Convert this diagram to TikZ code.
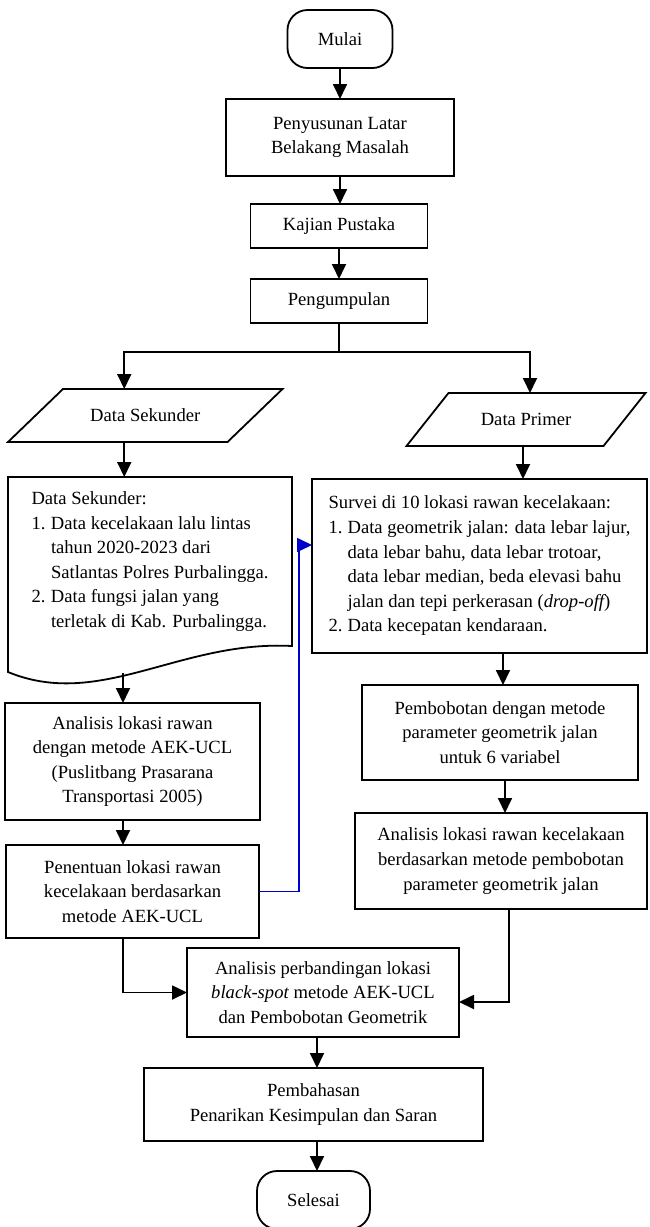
\documentclass[tikz,border=0pt]{standalone}
\usepackage{fontspec}
\setmainfont{Liberation Serif}
\usetikzlibrary{arrows.meta}
\definecolor{linkblue}{RGB}{0,0,205}
\begin{document}
\begin{tikzpicture}[x=1pt,y=-1pt,
  every node/.style={font=\fontsize{18.6}{24.6}\selectfont, inner sep=0pt, outer sep=0pt},
  box/.style={draw, line width=1.8pt, align=center},
  term/.style={draw, line width=1.8pt, rounded corners=20pt, minimum width=105pt, minimum height=58pt},
  io/.style={minimum height=53pt},
  outline/.style={line width=1.8pt, line join=miter},
  arr/.style={line width=1.8pt, -{Triangle[length=15pt,width=14pt]}},
  bluearr/.style={line width=1.6pt, draw=linkblue, -{Triangle[length=15pt,width=14pt]}}
]
\useasboundingbox (0,0) rectangle (649,1227);

% nodes
\node[term] (mulai) at (340,39) {Mulai};
\node[box, minimum width=228pt, minimum height=77pt] (latar) at (340,137.5) {Penyusunan Latar\\Belakang Masalah};
\node[box, minimum width=177pt, minimum height=44pt] (kajian) at (339,226) {Kajian Pustaka};
\node[box, minimum width=177pt, minimum height=44pt] (kumpul) at (339,301) {Pengumpulan};

\node[io, minimum width=219.5pt] (sek) at (145.25,415.5) {Data Sekunder};
\draw[outline] ([xshift=27.5pt]sek.north west) -- ([xshift=27.5pt]sek.north east)
  -- ([xshift=-27.5pt]sek.south east) -- ([xshift=-27.5pt]sek.south west) -- cycle;

\node[io, minimum width=197pt] (pri) at (526,419.5) {Data Primer};
\draw[outline] ([xshift=21pt]pri.north west) -- ([xshift=21pt]pri.north east)
  -- ([xshift=-21pt]pri.south east) -- ([xshift=-21pt]pri.south west) -- cycle;

\node[align=left, minimum width=284pt, minimum height=169pt] (doc) at (150,561.5)
  {Data Sekunder:\\
   \makebox[19.5pt][l]{1.}Data kecelakaan lalu lintas\\
   \hspace*{19.5pt}tahun 2020-2023 dari\\
   \hspace*{19.5pt}Satlantas Polres Purbalingga.\\
   \makebox[19.5pt][l]{2.}Data fungsi jalan yang\\
   \hspace*{19.5pt}terletak di Kab. Purbalingga.};
\draw[outline] (doc.south east)
  .. controls ([xshift=-112pt,yshift=6pt]doc.south east) and ([xshift=92pt,yshift=-64pt]doc.south west)
  .. ([yshift=-26pt]doc.south west) -- (doc.north west) -- (doc.north east) -- cycle;

\node[box, align=left, minimum width=335pt, minimum height=174pt] (surv) at (479.5,566)
  {Survei di 10 lokasi rawan kecelakaan:\\
   \makebox[19pt][l]{1.}Data geometrik jalan: data lebar lajur,\\
   \hspace*{19pt}data lebar bahu, data lebar trotoar,\\
   \hspace*{19pt}data lebar median, beda elevasi bahu\\
   \hspace*{19pt}jalan dan tepi perkerasan ({\itshape drop-off})\\
   \makebox[19pt][l]{2.}Data kecepatan kendaraan.};

\node[box, minimum width=255pt, minimum height=117pt] (ana1) at (132.5,761.5)
  {Analisis lokasi rawan\\dengan metode AEK-UCL\\(Puslitbang Prasarana\\Transportasi 2005)};
\node[box, minimum width=253pt, minimum height=93pt] (pen) at (132.5,891.5)
  {Penentuan lokasi rawan\\kecelakaan berdasarkan\\metode AEK-UCL};
\node[box, minimum width=276pt, minimum height=95pt] (bobot) at (500,732.5)
  {Pembobotan dengan metode\\parameter geometrik jalan\\untuk 6 variabel};
\node[box, minimum width=292pt, minimum height=96pt] (ana2) at (501,861)
  {Analisis lokasi rawan kecelakaan\\berdasarkan metode pembobotan\\parameter geometrik jalan};
\node[box, minimum width=272pt, minimum height=89pt] (banding) at (323,992.5)
  {Analisis perbandingan lokasi\\\textit{black-spot} metode AEK-UCL\\dan Pembobotan Geometrik};
\node[box, minimum width=339pt, minimum height=73pt] (bahas) at (313.5,1104.5)
  {Pembahasan\\Penarikan Kesimpulan dan Saran};
\node[term, minimum width=113pt] (selesai) at (313.5,1200) {Selesai};

% connectors
\draw[arr] (mulai.south) -- (mulai.south |- latar.north);
\draw[arr] (latar.south) -- (latar.south |- kajian.north);
\draw[arr] (kajian.south) -- (kajian.south |- kumpul.north);
\draw[line width=1.8pt] (kumpul.south) -- ++(0,29) coordinate (split);
\draw[arr] (split) -| ([xshift=-21pt]sek.north);
\draw[arr] (split) -| ([xshift=4pt]pri.north);
\draw[arr] ([xshift=-21pt]sek.south) -- ([xshift=-21pt]sek.south |- doc.north);
\draw[arr] ([xshift=-3pt]pri.south) -- ([xshift=-3pt]pri.south |- surv.north);
\draw[arr] ([xshift=-27pt,yshift=-27pt]doc.south) -- ([xshift=-27pt]doc.south |- ana1.north);
\draw[arr] ([xshift=23.5pt]surv.south) -- ([xshift=23.5pt]surv.south |- bobot.north);
\draw[arr] ([xshift=5pt]bobot.south) -- ([xshift=5pt]bobot.south |- ana2.north);
\draw[arr] ([xshift=-9.5pt]ana1.south) -- ([xshift=-9.5pt]ana1.south |- pen.north);
\draw[arr] ([xshift=-9.5pt]pen.south) |- (banding.west);
\draw[arr] ([xshift=8pt]ana2.south) |- ([yshift=-9.5pt]banding.east);
\draw[bluearr] (pen.east) -- ++(40,0) |- ([yshift=21pt]surv.west);
\draw[arr] ([xshift=-6pt]banding.south) -- ([xshift=-6pt]banding.south |- bahas.north);
\draw[arr] ([xshift=3.5pt]bahas.south) -- ([xshift=3.5pt]bahas.south |- selesai.north);
\end{tikzpicture}
\end{document}
